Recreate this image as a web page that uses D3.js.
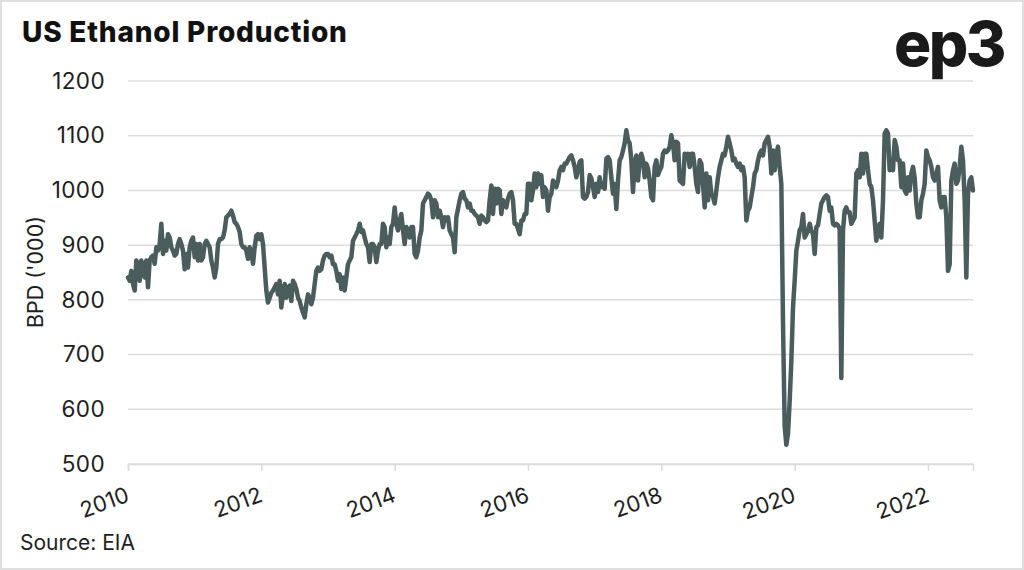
<!DOCTYPE html>
<html>
<head>
<meta charset="utf-8">
<script src="https://cdn.jsdelivr.net/npm/d3@7"></script>
<style>
  html, body { margin: 0; padding: 0; background: #fff; }
  svg { display: block; }
  text { font-family: Inter, "Open Sans", sans-serif; }
</style>
</head>
<body>
<svg id="chart" width="1024" height="570"></svg>
<script>
// ---- Data ----
const title = "US Ethanol Production";
const yLabel = "BPD ('000)";
const source = "Source: EIA";
const startYear = 2010;      // first observation
const stepYears = 0.025;     // spacing between observations (~9 days)
const yTicks = [500, 600, 700, 800, 900, 1000, 1100, 1200];
const xTicks = [2010, 2012, 2014, 2016, 2018, 2020, 2022];

const values2010 = [841,835,853,829,817,872,866,835,872,859,841,872,823,872,878,881,866,896,890,902,
  939,884,908,890,920,914,896,890,881,884,902,911,902,890,856,884,859,896,908,914,
  878,902,872,902,872,878,902,908,902,896,872,859,841,859,902,911,911,914,927,951,
  954,957,963,954,942,939,933,924,902,896,896,890,875,896,887,866,896,917,920,911,
  920,902,859,817,795,804,813,817,823,829,810];
const values2012 = [835,786,810,829,804,823,826,798,835,829,820,804,798,786,777,768,792,810,804,792,
  804,829,853,859,853,856,872,881,884,884,878,881,865,865,853,835,847,820,841,817,
  841,865,872,878,908,914,920,927,939,924,927,914,902,896,869,902,902,896,869,890,
  902,902,939,933,896,914,902,933,939,969,939,927,945,957,927,902,933,927,914,933,
  933,884,878,890,914,927,976,982,988,994,991,982,951,982,976,951];
const values2015 = [963,951,933,951,945,951,927,920,914,887,951,966,982,994,997,985,982,969,976,963,
  963,957,954,951,939,954,951,945,942,945,982,1009,957,1003,976,1003,1000,957,982,976,
  969,985,994,997,982,939,939,930,920,945,945,957,957,1012,1012,982,1000,1031,1006,1031,
  1012,1028,988,1006,1000,963,988,994,1018,1012,1006,1018,1037,1043,1037,1049,1049,1055,1061,1064,
  1055,1043,1024,1037,1052,1055,988,985,988,997,1028,1022,1006,988,1012,997];
const values2017 = [1024,1006,1012,1003,1058,1061,1055,1024,994,1012,966,1018,1055,1061,1073,1086,1110,1092,1086,1055,
  997,1049,1064,1018,1055,1067,1055,1024,1049,1040,1018,988,982,1043,1055,1028,1037,1043,1067,1073,
  1070,1073,1080,1101,1086,1055,1089,1086,1018,1015,1012,1067,1061,1067,1043,1067,1067,1043,1012,997,
  1055,1049,1012,969,1031,982,1024,994,988,976,1000,1024,1043,1055,1067,1064,1080,1098,1086,1073,
  1055,1058,1049,1043];
const values2019 = [1049,1037,1043,1024,945,963,969,988,1006,1031,1037,1055,1067,1073,1064,1086,1092,1098,1080,1031,
  1073,1037,1067,1080,1043,1012,760,570,535,555,615,688,786,835,890,908,927,933,957,914,
  920,927,939,927,920,884,933,936,957,976,982,988,991,988,963,969,939,936,939,936,
  930,657,927,963,969,960];
const values2021 = [960,939,945,951,1031,1037,1024,1067,1031,1067,1067,1037,1012,1006,982,945,908,927,939,914,
  982,1104,1110,1104,1037,1043,1037,1092,1080,1055,1055,1006,1049,1000,994,1024,1000,1031,1043,1024,
  976,951,951,982,994,1012,1073,1061,1055,1043,1024,1018,1031,1043,982,969,988,988,951,853,
  865,1018,1037,1049,1012,1018,1043,1080,1055,982,841,994,1018,1024,1000];

(function () {
const values = [].concat(values2010, values2012, values2015, values2017, values2019, values2021);
const series = values.map((v, i) => ({ year: startYear + i * stepYears, value: v }));

// ---- Layout ----
const svg = d3.select("#chart");
const W = 1024, H = 570;
const mLeft = 128, mRight = 973, mTop = 81, mBottom = 464;

svg.append("rect").attr("x", 1).attr("y", 1).attr("width", W - 2).attr("height", H - 2)
  .attr("fill", "#fff").attr("stroke", "#dedede").attr("stroke-width", 2);

const x = d3.scaleLinear().domain([2010, 2022.675]).range([mLeft, mRight]);
const y = d3.scaleLinear().domain([500, 1200]).range([mBottom, mTop]);

// gridlines
svg.append("g").selectAll("line").data(yTicks).join("line")
  .attr("x1", mLeft).attr("x2", mRight)
  .attr("y1", d => y(d)).attr("y2", d => y(d))
  .attr("stroke", "#dcdcdc").attr("stroke-width", 1.5);

// y axis labels
const yAxis = svg.append("g").attr("transform", `translate(${mLeft},0)`)
  .call(d3.axisLeft(y).tickValues(yTicks).tickSize(0).tickPadding(23).tickFormat(d3.format("d")));
yAxis.select(".domain").remove();
yAxis.selectAll("text").attr("font-size", 22.5).attr("fill", "#1e1e1e")
  .attr("font-family", "Inter, sans-serif").attr("letter-spacing", 0.4);

// x axis
const xAxis = svg.append("g").attr("transform", `translate(0,${mBottom})`)
  .call(d3.axisBottom(x).tickValues(xTicks).tickSize(7).tickFormat(d3.format("d")));
xAxis.select(".domain").attr("stroke", "#dcdcdc").attr("stroke-width", 1.5);
xAxis.selectAll(".tick line").attr("stroke", "#dcdcdc").attr("stroke-width", 1.5);
xAxis.selectAll("text")
  .attr("font-size", 22).attr("fill", "#1e1e1e")
  .attr("font-family", "Inter, sans-serif")
  .attr("text-anchor", "end")
  .attr("dy", null).attr("y", 0)
  .attr("transform", "translate(2,37) rotate(-20)");

// line
const line = d3.line().x(d => x(d.year)).y(d => y(d.value));
svg.append("path").datum(series)
  .attr("d", line)
  .attr("fill", "none")
  .attr("stroke", "#4a5c5c")
  .attr("stroke-width", 4.5)
  .attr("stroke-linejoin", "round")
  .attr("stroke-linecap", "round");

// title
svg.append("text").attr("x", 22).attr("y", 42).text(title)
  .attr("font-size", 28).attr("font-weight", 800).attr("fill", "#111")
  .attr("letter-spacing", 0.8);

// logo
svg.append("text").attr("x", 1004).attr("y", 66).text("ep3")
  .attr("text-anchor", "end")
  .attr("font-size", 62).attr("font-weight", 800).attr("fill", "#1a1a1a")
  .attr("letter-spacing", -2.5);

// y label
svg.append("text")
  .attr("transform", `translate(43,272) rotate(-90)`)
  .attr("text-anchor", "middle")
  .attr("font-size", 21.5).attr("fill", "#1e1e1e")
  .text(yLabel);

// source
svg.append("text").attr("x", 20).attr("y", 550).text(source)
  .attr("font-size", 21).attr("fill", "#1e1e1e");
})();
</script>
</body>
</html>
